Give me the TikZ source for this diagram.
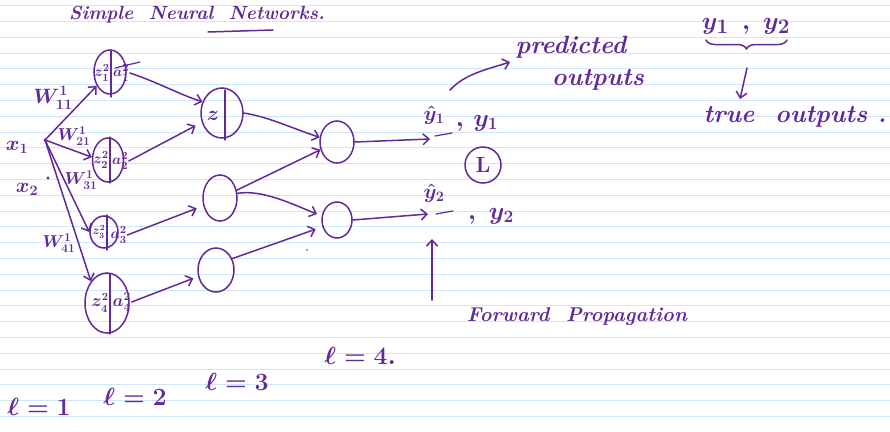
\documentclass[tikz,border=0pt]{standalone}
\usetikzlibrary{arrows.meta,shapes.geometric,decorations.pathreplacing}
\definecolor{ink}{RGB}{98,42,152}
\definecolor{ruling}{RGB}{206,230,250}
\begin{document}
\begin{tikzpicture}[x=1pt,y=-1pt,
  pen/.style={draw=ink,line width=1.5pt,line cap=round,line join=round},
  arr/.style={pen,-{Straight Barb[length=6pt,width=11pt]}},
  neuron/.style={draw=ink,ellipse,line width=1.5pt,inner sep=0pt},
  lbl/.style={text=ink,inner sep=0.5pt},
  fs/.style={font=\fontsize{#1}{#1}\selectfont\boldmath}]
\useasboundingbox (0,0) rectangle (890,431);
\fill[white] (0,0) rectangle (890,431);
% ruled paper
\foreach \k in {0,...,26}
  \draw[ruling,line width=0.9pt] (0,{5.7+15.8*\k}) -- (890,{5.7+15.8*\k});

% title
\node[lbl,fs=19] (title) at (197,15) {\bfseries\itshape Simple\ \ Neural\ \ Networks.};
\draw[pen] (208,32) -- (273,30);

% inputs
\node[lbl,fs=22] (x1) at (17,147) {$x_1$};
\node[lbl,fs=22] (x2) at (27,189) {$x_2$};
\coordinate (in1) at (45,140);
\fill[ink] (in1) circle (1.6pt);
\fill[ink] (48,178) circle (1.6pt);

% layer 2 neurons
\node[neuron,minimum width=32pt,minimum height=44pt] (A) at (110,72) {};
\node[neuron,minimum width=31pt,minimum height=44pt] (B) at (108,160) {};
\node[neuron,minimum width=28pt,minimum height=32pt] (C) at (104,232) {};
\node[neuron,minimum width=44pt,minimum height=60pt] (D) at (107,303) {};
\draw[pen,line width=1.2pt] (111,50) -- (111,97);
\draw[pen,line width=1.2pt] (110,137) -- (110,183);
\draw[pen,line width=1.2pt] (107,215) -- (107,250);
\draw[pen,line width=1.2pt] (110,274) -- (110,334);
\node[lbl,fs=15] (zA) at (102,73) {$z^2_1$};
\node[lbl,fs=15,anchor=west] (aA) at (112.5,73) {$a^2_1$};
\draw[pen,line width=1.2pt] (115,68) -- (140,62);
\node[lbl,fs=15] (zB) at (101,160) {$z^2_2$};
\node[lbl,fs=15,anchor=west] (aB) at (111.5,161) {$a^2_2$};
\node[lbl,fs=12] (zC) at (99,232) {$z^2_3$};
\node[lbl,fs=15,anchor=west] (aC) at (110,235) {$a^2_3$};
\node[lbl,fs=16] (zD) at (100,303) {$z^2_4$};
\node[lbl,fs=17,anchor=west] (aD) at (112,302) {$a^2_4$};

% weights from x1
\draw[arr] (in1) -- (A);
\draw[arr] (in1) -- (B.170);
\draw[arr] (in1) -- (C.west);
\draw[arr] (in1) -- (D.north west);
\node[lbl,fs=20] (w11) at (53,98) {$W^1_{11}$};
\node[lbl,fs=18] (w21) at (74,136) {$W^1_{21}$};
\node[lbl,fs=18] (w31) at (81,180) {$W^1_{31}$};
\node[lbl,fs=18] (w41) at (59,243) {$W^1_{41}$};

% layer 3 neurons
\node[neuron,minimum width=42pt,minimum height=50pt] (E) at (222,113) {};
\node[neuron,minimum width=34pt,minimum height=46pt] (F) at (220,198) {};
\node[neuron,minimum width=36pt,minimum height=44pt] (G) at (216,270) {};
\node[lbl,fs=22] (zE) at (213,116) {$z$};
\draw[pen,line width=1.2pt] (225,90) -- (225,140);

% layer 2 -> layer 3
\draw[arr] (aA.east) .. controls +(25,8) and +(-20,-6) .. (E.150);
\draw[arr,shorten >=7pt] (aB.east) -- (E.205);
\draw[arr,shorten >=7pt] (aC.east) -- (F.205);
\draw[arr,shorten >=5pt] (aD.east) -- (G.200);

% layer 4 neurons
\node[neuron,minimum width=34pt,minimum height=42pt] (H) at (337,142) {};
\node[neuron,minimum width=30pt,minimum height=36pt] (I) at (337,220) {};

% layer 3 -> layer 4
\draw[arr] (E.east) .. controls +(25,4) and +(-30,-10) .. (H.165);
\draw[arr] (F.25) -- (H.205);
\draw[arr,shorten >=5pt] (F.15) .. controls +(25,-4) and +(-30,-12) .. (I.165);
\draw[arr,shorten >=7pt] (G.35) -- (I.205);
\fill[ink] (307,250) circle (0.8pt);

% outputs
\coordinate (t1) at (430,139);
\coordinate (t2) at (428,214);
\draw[arr] (H.east) -- (t1);
\draw[arr] (I.east) -- (t2);
\node[lbl,fs=22] (yh1) at (434,115) {$\hat{y}_1$};
\draw[pen,line width=1.2pt] (435,136) -- (452,133);
\node[lbl,fs=27] (y1) at (477,123) {$,\,y_1$};
\node[lbl,fs=22] (yh2) at (434,193) {$\hat{y}_2$};
\draw[pen,line width=1.2pt] (436,214) -- (453,211);
\node[lbl,fs=27] (y2) at (491,216) {$,\;y_2$};
\node[draw=ink,circle,line width=1.5pt,minimum size=36pt,lbl,fs=22] (L) at (483,165) {\bfseries L};

% forward propagation
\node[lbl,fs=20] (fwd) at (577,317) {\bfseries\itshape Forward\ \ Propagation};
\coordinate (fb) at (432,300);
\coordinate (ft) at (432,239);
\draw[arr] (fb) -- (ft);

% predicted outputs
\node[lbl,fs=25] (pred) at (571,47) {\bfseries\itshape predicted};
\node[lbl,fs=25] (pout) at (598,80) {\bfseries\itshape outputs};
\coordinate (ps) at (450,90);
\coordinate (pt) at (510,62);
\draw[arr] (ps) .. controls +(15,-16) and +(-25,8) .. (pt);

% true outputs
\node[lbl,fs=28] (ytrue) at (746,26) {$y_1\ \,,\ y_2$};
\draw[pen,decorate,decoration={brace,mirror,amplitude=9pt}] (706,40) -- (787,40);
\coordinate (bs) at (747,68);
\coordinate (be) at (740,99);
\draw[arr] (bs) -- (be);
\node[lbl,fs=25] (tout) at (795,117) {\bfseries\itshape true\ \ outputs\ .};

% layer indices
\node[lbl,fs=26] (l1) at (39,407) {$\ell=1$};
\node[lbl,fs=26] (l2) at (135,397) {$\ell=2$};
\node[lbl,fs=26] (l3) at (237,382) {$\ell=3$};
\node[lbl,fs=26] (l4) at (360,356) {$\ell=4.$};
\end{tikzpicture}
\end{document}
